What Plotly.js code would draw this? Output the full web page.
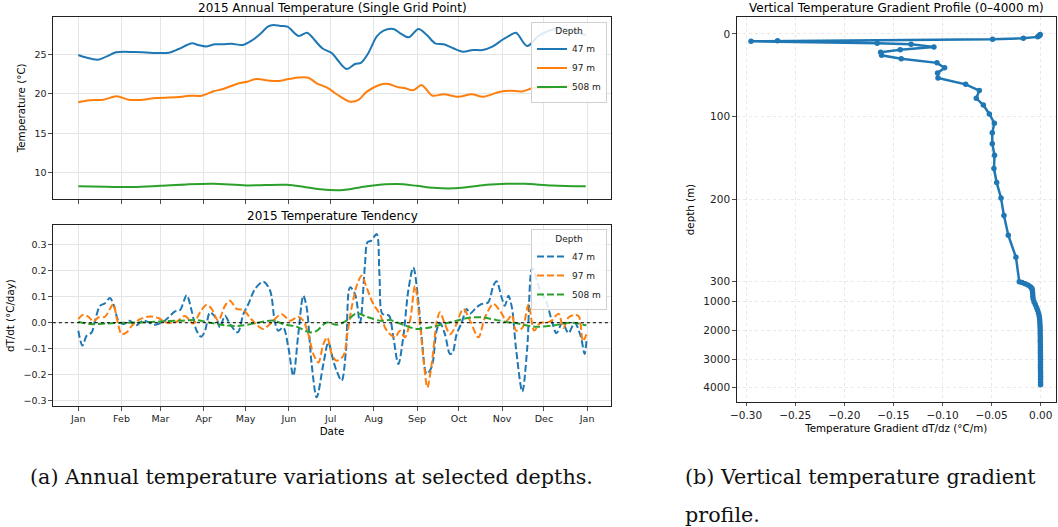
<!DOCTYPE html>
<html>
<head>
<meta charset="utf-8">
<script src="https://cdn.plot.ly/plotly-3.0.1.min.js"></script>
<style>
html,body{margin:0;padding:0;background:#fff;}
#chart{width:1058px;height:527px;}
</style>
</head>
<body>
<div id="chart"></div>
<script>
// ---------- DATA ----------
const depthLabels = ['47 m', '97 m', '508 m'];
const seriesColors = ['#1f77b4', '#ff7f0e', '#2ca02c'];

// Annual temperature (°C), day offset from 2015-01-01
const tempDays47 = [0,5,14,20,27,40,51,65,72,78,82,86,92,98,104,110,118,125,131,136,140,145,150,158,164,167,175,182,186,192.5,198.5,203,208,214,219,226,231,237,244,250,256,262,269,276,283,290,297,304,310,314,322,330,339,347,356,364];
const temp47 = [24.91,24.62,24.32,24.70,25.25,25.29,25.20,25.20,25.67,26.18,26.39,26.18,26.00,26.27,26.27,26.34,26.18,26.81,27.66,28.50,28.71,28.58,28.50,27.32,27.73,27.32,25.76,25.13,24.28,23.14,23.77,23.94,25.13,27.23,27.99,28.20,27.66,27.15,28.20,27.44,26.39,26.27,25.76,25.33,25.54,25.54,25.96,26.81,27.44,27.73,26.05,27.30,28.07,28.28,27.86,27.44];

const tempDays97 = [0,8,18,27.5,36,44,56,73,80,88.5,97,104,113.6,121,128,137.5,145,152,165,171,179.4,185.4,195,201,207,216.4,222.4,229.6,234.4,240.3,246.3,250,254,262,272.6,282.2,290.5,302.5,309.7,318.5,325.7,335.8,344.5,353,357.4,364];
const temp97 = [18.92,19.18,19.25,19.68,19.25,19.22,19.47,19.60,19.76,19.76,20.32,20.61,21.24,21.53,21.87,21.66,21.66,21.91,22.04,21.33,20.70,19.94,19.00,19.22,20.27,21.15,21.24,20.82,20.70,20.44,21.11,20.48,19.76,19.94,19.63,19.94,19.63,20.27,20.39,20.30,20.70,20.70,20.92,21.00,20.92,20.70];

const tempDays508 = [0,20,39.5,58.6,77.7,96.8,120.8,149.5,161.4,173.4,190,202,211.6,228.4,242.8,254.7,269,281,293,307.3,320,340,364];
const temp508 = [8.28,8.23,8.19,8.35,8.53,8.61,8.40,8.48,8.23,7.90,7.81,8.15,8.40,8.57,8.35,8.10,8.03,8.23,8.48,8.61,8.60,8.40,8.28];

// Temperature tendency dT/dt (°C/day)
const tendDays47 = [0,3,6,9.6,12,15.6,19,22.7,25.6,28.7,32.3,37,40.7,46.7,55,62,69.4,73,77.7,81.3,84.9,88,90.9,94.5,99.2,101.6,105.2,108.8,114.3,118.4,122,126.8,132.7,137.5,141.1,143.5,147,150.7,154.2,157.8,161.4,163.8,167.4,171,175.8,179.3,182.9,185.3,188.9,192,194.9,198.5,202.1,205.6,207.5,210,214,216,218,221,223,226,229.6,233.1,236.7,240.3,243.9,246.3,249.9,253.5,257,259.4,263,266.6,268.5,271.4,275,278.6,281,285.8,289.3,294,297.7,300,303.7,306,308.5,311,314,318.5,322,325.7,331.5,335.8,340,343,347.3,351.6,356,360.3,363.2,364.5];
const tend47 = [-0.031,-0.088,-0.050,-0.037,0.008,0.065,0.074,0.095,0.065,0.008,-0.005,0.008,-0.012,0.008,-0.008,0.008,0.044,0.049,0.106,0.046,-0.031,-0.054,-0.031,0.040,0.014,-0.018,0.027,-0.005,-0.037,0.033,0.072,0.130,0.158,0.125,0.000,-0.031,-0.018,-0.095,-0.204,-0.044,0.104,0.059,-0.159,-0.287,-0.159,-0.076,-0.146,-0.185,-0.223,-0.108,0.136,0.110,0.001,0.220,0.310,0.315,0.341,0.190,0.035,0.030,0.027,-0.056,-0.159,-0.056,0.123,0.213,0.085,-0.056,-0.197,-0.170,-0.031,0.000,-0.044,-0.120,-0.115,-0.044,0.000,0.053,0.035,0.060,0.072,0.078,0.142,0.160,0.097,0.065,0.104,0.060,-0.100,-0.265,-0.100,0.210,0.120,0.080,0.000,-0.040,0.000,-0.040,0.000,-0.050,-0.120,-0.070];

const tendDays97 = [0,3.6,7.2,10.8,14.4,19.1,22.7,25.1,27.5,31.1,34.7,38.3,44.3,51.4,57.4,63.4,70.6,76.5,82.5,87.3,92.1,95.7,100.4,105.2,108.8,113.6,118.4,123.1,127.9,132.7,137.5,139.9,145.9,151.8,157.8,161.4,165,168.6,172.2,175.8,178.6,181.7,185.3,190.1,193,196.1,200.1,203.3,206.8,211.6,216.4,220,223.6,227.2,230.8,234.3,238,241.5,245.1,248,250.4,253.5,257.1,259.4,263,266.6,270.2,276.2,281,287,291.7,297.7,302.5,307.3,311,314,318.5,323,327,331.5,335.8,340,344.5,348,351.6,356,359,362,364.5];
const tend97 = [0.014,0.031,0.023,0.005,0.020,0.023,0.053,0.072,0.020,-0.044,-0.037,-0.012,0.014,0.024,0.018,0.001,0.004,0.026,-0.003,0.040,0.069,0.053,0.008,0.065,0.085,0.053,0.049,0.020,-0.008,-0.024,-0.005,0.008,0.033,0.008,0.023,0.008,-0.044,-0.120,-0.153,-0.082,-0.056,-0.120,-0.146,-0.127,-0.044,0.059,0.149,0.181,0.136,0.072,0.033,-0.018,-0.044,-0.056,-0.031,-0.056,0.008,0.142,-0.005,-0.159,-0.249,-0.159,0.001,0.040,-0.005,-0.044,-0.018,0.053,0.008,-0.056,0.020,0.072,0.046,0.008,0.030,-0.030,-0.020,0.070,-0.030,0.000,0.000,0.010,0.035,-0.020,0.020,0.030,0.025,-0.070,-0.045];

const tendDays508 = [0,8.4,20.3,32.3,44.3,58.6,73,84.9,94.5,104,115.9,127.9,139.9,147,156.6,166.2,171,178.2,185.3,192.5,199.7,206.8,216.4,223.6,233.1,242.7,252.3,261.8,271.4,281,290.5,300.1,309.7,312.6,327,341.6,353,364.5];
const tend508 = [0.004,-0.005,-0.003,0.000,0.001,0.005,0.008,0.010,0.000,-0.009,-0.012,-0.001,0.008,-0.005,-0.015,-0.037,-0.031,0.001,-0.008,0.008,0.036,0.023,0.008,0.010,-0.008,-0.024,-0.018,-0.005,0.008,0.020,0.020,0.010,0.001,0.000,-0.015,-0.010,0.000,-0.010];

// Vertical gradient profile
const profileDepth = [0.5,1.5,2.5,3.5,5.2,6.5,8.1,8.9,11.3,12.5,15.8,19.0,22.2,25.8,30.0,35.0,41.0,47.2,53.3,61.0,68.6,77.9,86.0,96.9,108,119.5,133,147,163,180,198.6,220,243.8,270.5,300,
  330,370,420,480,530,600,700,800,900,1000,1100,1200,1300,1400,1500,1600,1700,1800,1900,2000,2100,2200,2300,2400,2500,2600,2700,2800,2900,3000,3100,3200,3300,3400,3500,3600,3700,3800,3900];
const profileGrad = [-0.0005,-0.0010,-0.0017,-0.0030,-0.0177,-0.0490,-0.2680,-0.2950,-0.1665,-0.1320,-0.1087,-0.1430,-0.1630,-0.1620,-0.1420,-0.1056,-0.0978,-0.1050,-0.1046,-0.0764,-0.0625,-0.0656,-0.0584,-0.0523,-0.0472,-0.0493,-0.0493,-0.0470,-0.0476,-0.0448,-0.0404,-0.0374,-0.0330,-0.0252,-0.0218,
  -0.0190,-0.0160,-0.0130,-0.0105,-0.0090,-0.0085,-0.0082,-0.0080,-0.0077,-0.0068,-0.0055,-0.0042,-0.0031,-0.0022,-0.0015,-0.0011,-0.0009,-0.0007,-0.0006,-0.0005,-0.0005,-0.0004,-0.0004,-0.0004,-0.0003,-0.0003,-0.0003,-0.0003,-0.0002,-0.0002,-0.0002,-0.0002,-0.0002,-0.0002,-0.0001,-0.0001,-0.0001,-0.0001,-0.0001];
const depthTicks = [0,100,200,300,1000,2000,3000,4000];

const monthTickLabels = ['Jan','Feb','Mar','Apr','May','Jun','Jul','Aug','Sep','Oct','Nov','Dec','Jan'];
const gradTicks = [-0.30,-0.25,-0.20,-0.15,-0.10,-0.05,0.00];

// ---------- HELPERS ----------
const W = 1058, H = 527;
const T0 = Date.UTC(2015,0,1);
function dayToDate(d){ return new Date(T0 + d*86400000).toISOString().slice(0,19).replace('T',' '); }
// piecewise depth scale: linear 0-300 m, compressed below 300 m
const DEEP_K = 0.0347;
function depthScale(d){ return d <= 300 ? d : 300 + (d-300)*DEEP_K; }
const fx = p => p/W, fy = p => 1 - p/H;
const tickFont = {family:'DejaVu Sans', size:9.5, color:'#222'};
const labFont = {family:'DejaVu Sans', size:10.3, color:'#000'};
const monthVals = monthTickLabels.map((m,i)=>`${i<12?2015:2016}-${String(i<12?i+1:1).padStart(2,'0')}-01`);

// ---------- TRACES ----------
const traces = [];
const tDays = [tempDays47, tempDays97, tempDays508];
const tVals = [temp47, temp97, temp508];
const dDays = [tendDays47, tendDays97, tendDays508];
const dVals = [tend47, tend97, tend508];
for (let i=0;i<3;i++){
  traces.push({x:tDays[i].map(dayToDate), y:tVals[i], type:'scatter', mode:'lines', name:depthLabels[i],
    line:{color:seriesColors[i], width:2, shape:'spline', smoothing:0.9}, xaxis:'x', yaxis:'y', legend:'legend', hoverinfo:'skip'});
}
for (let i=0;i<3;i++){
  traces.push({x:dDays[i].map(dayToDate), y:dVals[i], type:'scatter', mode:'lines', name:depthLabels[i],
    line:{color:seriesColors[i], width:2, dash:'7px,3px', shape:'spline', smoothing:0.9}, xaxis:'x2', yaxis:'y2', legend:'legend2', hoverinfo:'skip'});
}
traces.push({x:profileGrad, y:profileDepth.map(depthScale), type:'scatter', mode:'lines+markers',
  line:{color:'#1f77b4', width:2.5}, marker:{color:'#1f77b4', size:5.5}, xaxis:'x3', yaxis:'y3', showlegend:false, hoverinfo:'skip'});

// ---------- LAYOUT ----------
const xRange = [dayToDate(-18.22), dayToDate(382.2)];
const baseAx = {showline:true, mirror:true, linecolor:'#222', linewidth:1, ticks:'outside', ticklen:3.5, tickwidth:0.8, tickcolor:'#222', zeroline:false, tickfont:tickFont};
const leftGrid = {showgrid:true, gridcolor:'#e5e5e5', gridwidth:1};
const legendCommon = {xref:'paper', yref:'paper', xanchor:'right', yanchor:'top', bgcolor:'rgba(255,255,255,0.85)', bordercolor:'#d0d0d0', borderwidth:1,
  font:{family:'DejaVu Sans', size:9, color:'#222'}, title:{text:'Depth', side:'top center', font:{family:'DejaVu Sans', size:9, color:'#222'}}, itemwidth:30, tracegroupgap:0};

const capFont = {family:'DejaVu Serif', size:20.7, color:'#111'};
const layout = {
  width:W, height:H, margin:{l:0,r:0,t:0,b:0}, paper_bgcolor:'#fff', plot_bgcolor:'#fff', showlegend:true,
  xaxis: Object.assign({}, baseAx, leftGrid, {domain:[fx(52.9), fx(611.1)], anchor:'y', type:'date', range:xRange, tickvals:monthVals, showticklabels:false}),
  yaxis: Object.assign({}, baseAx, leftGrid, {domain:[fy(199), fy(16.7)], anchor:'x', range:[6.68, 29.76], tickvals:[10,15,20,25],
    title:{text:'Temperature (°C)', font:labFont, standoff:6}}),
  xaxis2: Object.assign({}, baseAx, leftGrid, {domain:[fx(52.9), fx(611.1)], anchor:'y2', type:'date', range:xRange, tickvals:monthVals, ticktext:monthTickLabels,
    title:{text:'Date', font:labFont, standoff:4}}),
  yaxis2: Object.assign({}, baseAx, leftGrid, {domain:[fy(406.3), fy(225)], anchor:'x2', range:[-0.3215, 0.376], tickvals:[-0.3,-0.2,-0.1,0,0.1,0.2,0.3], tickformat:'.1f',
    title:{text:'dT/dt (°C/day)', font:labFont, standoff:6}}),
  xaxis3: Object.assign({}, baseAx, {domain:[fx(736.7), fx(1055.7)], anchor:'y3', range:[-0.3096, 0.0153], tickvals:gradTicks, tickformat:'.2f',
    tickfont:{family:'DejaVu Sans', size:10.5, color:'#222'}, showgrid:true, gridcolor:'#e8e8e8', griddash:'dot',
    title:{text:'Temperature Gradient dT/dz (°C/m)', font:labFont, standoff:4}}),
  yaxis3: Object.assign({}, baseAx, {domain:[fy(401.7), fy(17.3)], anchor:'x3', range:[depthScale(4490), -20.2], tickvals:depthTicks.map(depthScale), ticktext:depthTicks.map(String),
    tickfont:{family:'DejaVu Sans', size:10.5, color:'#222'}, showgrid:true, gridcolor:'#e8e8e8', griddash:'dot',
    title:{text:'depth (m)', font:labFont, standoff:6}}),
  legend: Object.assign({}, legendCommon, {x:fx(607), y:fy(21.7)}),
  legend2: Object.assign({}, legendCommon, {x:fx(607), y:fy(229.3)}),
  shapes:[{type:'line', xref:'x2 domain', yref:'y2', x0:0, x1:1, y0:0, y1:0, line:{color:'#000', width:1, dash:'dot'}}],
  annotations:[
    {text:'2015 Annual Temperature (Single Grid Point)', xref:'paper', yref:'paper', x:fx(332), y:fy(8), xanchor:'center', yanchor:'middle', showarrow:false, font:{family:'DejaVu Sans', size:12, color:'#000'}},
    {text:'2015 Temperature Tendency', xref:'paper', yref:'paper', x:fx(332), y:fy(215.5), xanchor:'center', yanchor:'middle', showarrow:false, font:{family:'DejaVu Sans', size:12, color:'#000'}},
    {text:'Vertical Temperature Gradient Profile (0–4000 m)', xref:'paper', yref:'paper', x:fx(896), y:fy(8), xanchor:'center', yanchor:'middle', showarrow:false, font:{family:'DejaVu Sans', size:12, color:'#000'}},
    {text:'(a) Annual temperature variations at selected depths.', xref:'paper', yref:'paper', x:fx(311), y:fy(477), xanchor:'center', yanchor:'middle', showarrow:false, font:capFont},
    {text:'(b) Vertical temperature gradient', xref:'paper', yref:'paper', x:fx(683), y:fy(477), xanchor:'left', yanchor:'middle', showarrow:false, font:capFont},
    {text:'profile.', xref:'paper', yref:'paper', x:fx(683), y:fy(515), xanchor:'left', yanchor:'middle', showarrow:false, font:capFont}
  ]
};

Plotly.newPlot('chart', traces, layout, {staticPlot:true, displayModeBar:false});
</script>
</body>
</html>
